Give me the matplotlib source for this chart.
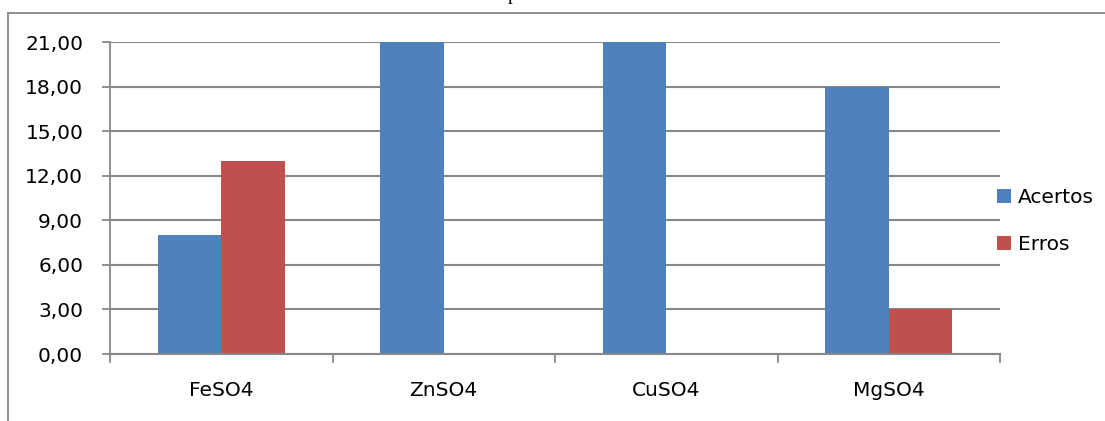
import matplotlib
matplotlib.use("Agg")
import matplotlib.pyplot as plt
from matplotlib.lines import Line2D
import numpy as np

categories = ["FeSO4", "ZnSO4", "CuSO4", "MgSO4"]
acertos = [8, 21, 21, 18]
erros = [13, 0, 0, 3]
yticks = [0, 3, 6, 9, 12, 15, 18, 21]
ytick_labels = ["0,00", "3,00", "6,00", "9,00", "12,00", "15,00", "18,00", "21,00"]

blue = "#4F81BD"
red = "#C0504D"
grid_col = "#888888"

plt.rcParams["font.family"] = ["DejaVu Sans"]
FS = 14.5

W, H = 1105, 421
fig = plt.figure(figsize=(W / 100, H / 100), dpi=100)
fig.patch.set_facecolor("white")

# plot area in pixel coordinates
left, right, top, bottom = 110, 1000, 42, 354
ax = fig.add_axes([left / W, 1 - bottom / H, (right - left) / W, (bottom - top) / H])

x = np.arange(len(categories))
bw = 0.285
ax.bar(x - bw / 2, acertos, bw, color=blue, label="Acertos", zorder=3)
ax.bar(x + bw / 2, erros, bw, color=red, label="Erros", zorder=3)

ax.set_xlim(-0.5, len(categories) - 0.5)
ax.set_ylim(0, 21)
ax.set_yticks(yticks)
ax.set_yticklabels(ytick_labels, fontsize=FS)
ax.set_xticks(x)
ax.set_xticklabels(categories, fontsize=FS)
ax.tick_params(axis="x", length=0, pad=19.5)
ax.tick_params(axis="y", length=5.8, width=1.3, color=grid_col, pad=13.5)

# category separator ticks below the baseline
for b in np.arange(-0.5, len(categories), 1.0):
    ax.plot([b, b], [0, -0.55], color=grid_col, lw=1.3, clip_on=False, zorder=4)

ax.grid(axis="y", color=grid_col, lw=1.5, zorder=0)
for s in ["top", "right"]:
    ax.spines[s].set_visible(False)
ax.spines["left"].set_color(grid_col)
ax.spines["left"].set_linewidth(1.3)
ax.spines["bottom"].set_color(grid_col)
ax.spines["bottom"].set_linewidth(1.5)
ax.spines["bottom"].set_zorder(5)

ax.legend(loc="center left", bbox_to_anchor=((997 - left) / (right - left), 0.425),
          frameon=False, fontsize=FS, handlelength=0.7, handleheight=0.7,
          handletextpad=0.35, labelspacing=1.4, borderpad=0, borderaxespad=0)

# outer chart border (left and top edges inside the image)
fig.add_artist(Line2D([8 / W, 8 / W], [0, 1 - 13 / H], transform=fig.transFigure,
                      color=grid_col, lw=1.3))
fig.add_artist(Line2D([8 / W, 1], [1 - 13 / H, 1 - 13 / H], transform=fig.transFigure,
                      color=grid_col, lw=1.3))

# chart title sitting above the top edge of the image
fig.text(512 / W, 1 + 0.5 / H, "p", fontsize=14, family="Liberation Serif",
         ha="center", va="baseline")

fig.savefig("out.png", dpi=100, facecolor="white")
